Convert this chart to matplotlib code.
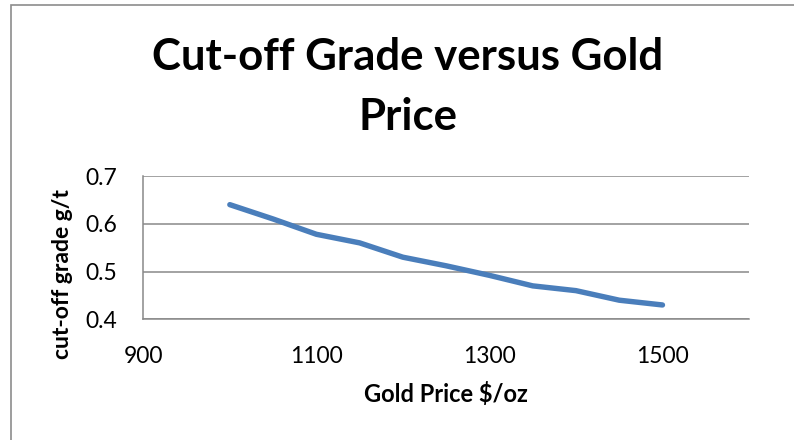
import matplotlib
matplotlib.use("Agg")
import matplotlib.pyplot as plt
from matplotlib.patches import Rectangle

# gold price ($/oz) vs cut-off grade (g/t)
gold_price = [1000, 1050, 1100, 1150, 1200, 1250, 1300, 1350, 1400, 1450, 1500]
cutoff_grade = [0.64, 0.61, 0.578, 0.56, 0.53, 0.512, 0.492, 0.47, 0.46, 0.44, 0.43]
x_ticks = [900, 1100, 1300, 1500]
y_ticks = [0.4, 0.5, 0.6, 0.7]

plt.rcParams['font.family'] = ['Lato', 'DejaVu Sans']
grid_col = '#898989'

fig = plt.figure(figsize=(7.94, 4.40), dpi=100)
fig.patch.set_facecolor('white')

# outer chart border (only left and top visible in the crop)
fig.patches.append(Rectangle((11 / 794, -0.1), 1.2, 1 - 5.5 / 440 + 0.1, transform=fig.transFigure,
                             fill=False, edgecolor='#8c8c8c', linewidth=1.2))

ax = fig.add_axes([143.3 / 794, 1 - 319.3 / 440, (749 - 143.3) / 794, (319.3 - 176) / 440])
ax.plot(gold_price, cutoff_grade, color='#4a7ebb', linewidth=3.9, solid_capstyle='round',
        solid_joinstyle='round', zorder=3)

ax.set_xlim(900, 1600)
ax.set_ylim(0.4, 0.7)
ax.set_xticks(x_ticks)
ax.set_yticks(y_ticks)
ax.set_xticklabels([str(v) for v in x_ticks])
ax.set_yticklabels([f'{v:.1f}' for v in y_ticks])
ax.tick_params(length=0, labelsize=16.5, colors='black')
ax.tick_params(axis='y', pad=19)
ax.tick_params(axis='x', pad=19)

ax.yaxis.grid(True, color=grid_col, linewidth=1.1)
ax.set_axisbelow(True)
for s in ['top', 'right']:
    ax.spines[s].set_visible(False)
for s in ['left', 'bottom']:
    ax.spines[s].set_color(grid_col)
    ax.spines[s].set_linewidth(1.1)

# title, two lines as in the original
fig.text(408 / 794, 1 - 70 / 440, 'Cut-off Grade versus Gold', ha='center', va='baseline',
         fontsize=31.5, fontweight='bold')
fig.text(408 / 794, 1 - 130 / 440, 'Price', ha='center', va='baseline',
         fontsize=31.5, fontweight='bold')
fig.text(446 / 794, 1 - 394 / 440, 'Gold Price $/oz', ha='center', va='center',
         fontsize=17, fontweight='bold')
fig.text(62.5 / 794, 1 - 274 / 440, 'cut-off grade g/t', ha='center', va='center',
         rotation=90, fontsize=16.5, fontweight='bold')

fig.savefig('out.png', dpi=100)
